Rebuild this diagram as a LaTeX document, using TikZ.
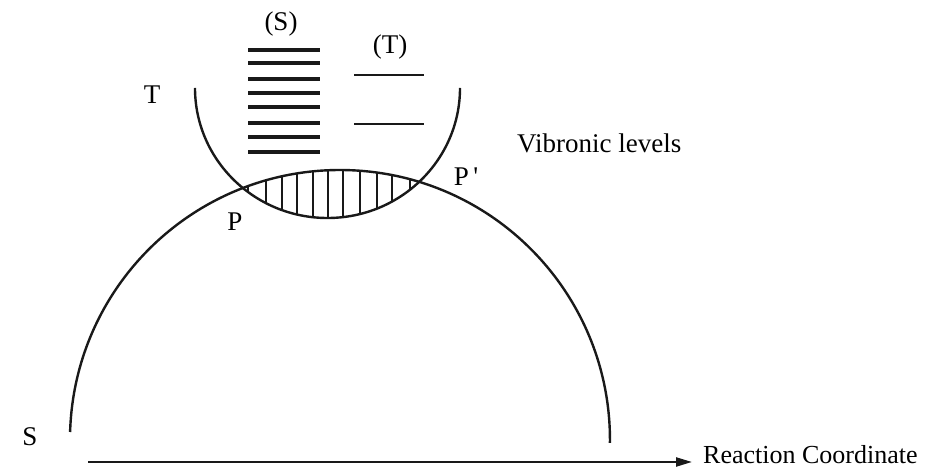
\documentclass[tikz,border=0pt]{standalone}
\usepackage{fontspec}
\setmainfont{Liberation Serif}
\usetikzlibrary{arrows.meta}
\begin{document}
\begin{tikzpicture}[x=1pt,y=1pt,
  curve/.style={line width=2.4pt,black!90},
  level/.style={line width=3.4pt,black!90},
  tlevel/.style={line width=2.8pt,black!90},
  hatch/.style={line width=1.9pt,black!90},
  lbl/.style={font=\fontsize{27}{29}\selectfont,inner sep=0pt}]
\useasboundingbox (0,0) rectangle (930,468);
% S curve (circle arc)
\draw[curve] (70.1,36) arc[start angle=178.3,end angle=-0.6,radius=270];
% T curve (half ellipse)
\draw[curve] (195,380) arc[start angle=180,end angle=360,x radius=132.5,y radius=130];
% hatching in the overlap
\begin{scope}
  \clip (340,28) circle[radius=270];
  \clip (327.5,380) ellipse[x radius=132.5,y radius=130];
  \foreach \xx in {248,266,282,297,313,328,343,360,377,392,410}
    \draw[hatch] (\xx,240) -- (\xx,310);
\end{scope}
% vibronic levels (S)
\foreach \yy in {418,405,389,375,361,345,331,316}
  \draw[level] (248,\yy) -- (320,\yy);
% vibronic levels (T)
\foreach \yy in {393,344}
  \draw[tlevel] (354,\yy) -- (424,\yy);
% labels
\node[lbl] (lS) at (281,444) {(S)};
\node[lbl] (lT) at (390,421) {(T)};
\node[lbl] (Tc) at (152,373) {T};
\node[lbl] (P) at (235,246) {P};
\node[lbl] (Pp) at (466,291) {P\,\textquotesingle};
\node[lbl,anchor=west] (vib) at (517,325) {Vibronic levels};
\node[lbl] (Sc) at (30,31) {S};
\node[lbl,anchor=west,font=\fontsize{26}{28}\selectfont] (rc) at (703,13) {Reaction Coordinate};
% axis arrow
\coordinate (a0) at (88,6);
\coordinate (a1) at (692,6);
\draw[line width=2.2pt,black!90,-{Triangle[length=16pt,width=9pt]}] (a0) -- (a1);
\end{tikzpicture}
\end{document}
